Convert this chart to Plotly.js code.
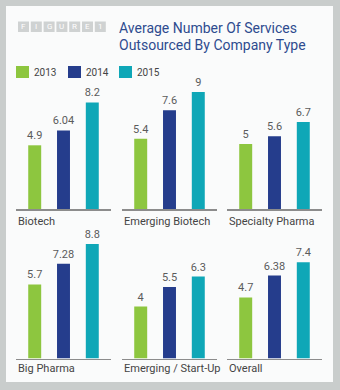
<!DOCTYPE html>
<html><head><meta charset="utf-8">
<script src="https://cdn.plot.ly/plotly-3.0.1.min.js"></script>
<style>html,body{margin:0;padding:0;background:#fff}#chart{width:340px;height:390px}</style>
</head><body><div id="chart"></div>
<script>
// ---- data ----
const years = ['2013', '2014', '2015'];
const companyTypes = ['Biotech', 'Emerging Biotech', 'Specialty Pharma', 'Big Pharma', 'Emerging / Start-Up', 'Overall'];
const values2013 = [4.9, 5.4, 5, 5.7, 4, 4.7];
const values2014 = [6.04, 7.6, 5.6, 7.28, 5.5, 6.38];
const values2015 = [8.2, 9, 6.7, 8.8, 6.3, 7.4];
const yearColors = ['#8dc63f', '#253d8c', '#0fa7b7'];
const titleLines = ['Average Number Of Services', 'Outsourced By Company Type'];
const figureLetters = ['F', 'I', 'G', 'U', 'R', 'E', '1'];

// ---- layout helpers ----
const W = 340, H = 390;
const FONT = 'Roboto, "Open Sans", sans-serif';
const px = v => v / W;
const py = v => 1 - v / H;
const colPx = [[16, 111], [122, 217], [227, 322]];
const rowPx = [[79, 209], [228.5, 358.5]];
const labelY = [221, 368];

const traces = [];
const layout = {
  width: W, height: H,
  margin: {l: 0, r: 0, t: 0, b: 0},
  paper_bgcolor: '#c9cdcc',
  plot_bgcolor: 'rgba(0,0,0,0)',
  showlegend: false,
  font: {family: FONT, color: '#444'},
  shapes: [], annotations: []
};

// inner panel background
layout.shapes.push({type: 'rect', xref: 'paper', yref: 'paper', layer: 'below',
  x0: px(6), x1: px(333), y0: py(6), y1: py(382), fillcolor: '#fafbfb', line: {width: 0}});

companyTypes.forEach((name, i) => {
  const r = Math.floor(i / 3), c = i % 3;
  const n = i === 0 ? '' : String(i + 1);
  const vals = [values2013[i], values2014[i], values2015[i]];
  traces.push({
    type: 'bar', x: years, y: vals,
    xaxis: 'x' + n, yaxis: 'y' + n,
    marker: {color: yearColors, line: {width: 0}},
    width: 0.45,
    text: vals.map(v => String(v)),
    textposition: 'outside', constraintext: 'none', cliponaxis: false,
    textfont: {family: FONT, size: 11, color: '#5b5b5b'},
    hoverinfo: 'none'
  });
  layout['xaxis' + n] = {
    domain: [px(colPx[c][0]), px(colPx[c][1])],
    anchor: 'y' + n, type: 'category', range: [-0.65, 2.65],
    showline: true, linecolor: '#8c8c8c', linewidth: 1.5,
    showticklabels: false, showgrid: false, zeroline: false, ticks: '', fixedrange: true
  };
  layout['yaxis' + n] = {
    domain: [py(rowPx[r][1]), py(rowPx[r][0])],
    anchor: 'x' + n, range: [0, 10], visible: false, fixedrange: true
  };
  layout.annotations.push({
    xref: 'paper', yref: 'paper', x: px(colPx[c][0]), y: py(labelY[r]),
    xanchor: 'left', yanchor: 'middle', showarrow: false,
    text: name, font: {family: FONT, size: 11, color: '#444'}
  });
});

// legend (manual)
const legendX = [16, 68, 119];
years.forEach((yr, k) => {
  layout.shapes.push({type: 'rect', xref: 'paper', yref: 'paper',
    x0: px(legendX[k]), x1: px(legendX[k] + 13), y0: py(78), y1: py(66),
    fillcolor: yearColors[k], line: {width: 0}});
  layout.annotations.push({xref: 'paper', yref: 'paper', x: px(legendX[k] + 16), y: py(72),
    xanchor: 'left', yanchor: 'middle', showarrow: false, text: yr,
    font: {family: FONT, size: 10, color: '#444'}});
});

// "FIGURE 1" tag
figureLetters.forEach((ch, k) => {
  const x0 = 18 + k * 12.8;
  layout.shapes.push({type: 'rect', xref: 'paper', yref: 'paper',
    x0: px(x0), x1: px(x0 + 11), y0: py(32), y1: py(21.5),
    fillcolor: '#cfd2d2', line: {width: 0}});
  layout.annotations.push({xref: 'paper', yref: 'paper', x: px(x0 + 5.5), y: py(27),
    xanchor: 'center', yanchor: 'middle', showarrow: false, text: ch,
    font: {family: FONT, size: 8, color: '#ffffff'}});
});

// title
titleLines.forEach((t, k) => {
  layout.annotations.push({xref: 'paper', yref: 'paper', x: px(117), y: py(28 + k * 16.5),
    xanchor: 'left', yanchor: 'middle', showarrow: false, text: t,
    font: {family: FONT, size: 14, color: '#2e4b8f'}});
});

Plotly.newPlot('chart', traces, layout, {displayModeBar: false, staticPlot: true});
</script></body></html>
